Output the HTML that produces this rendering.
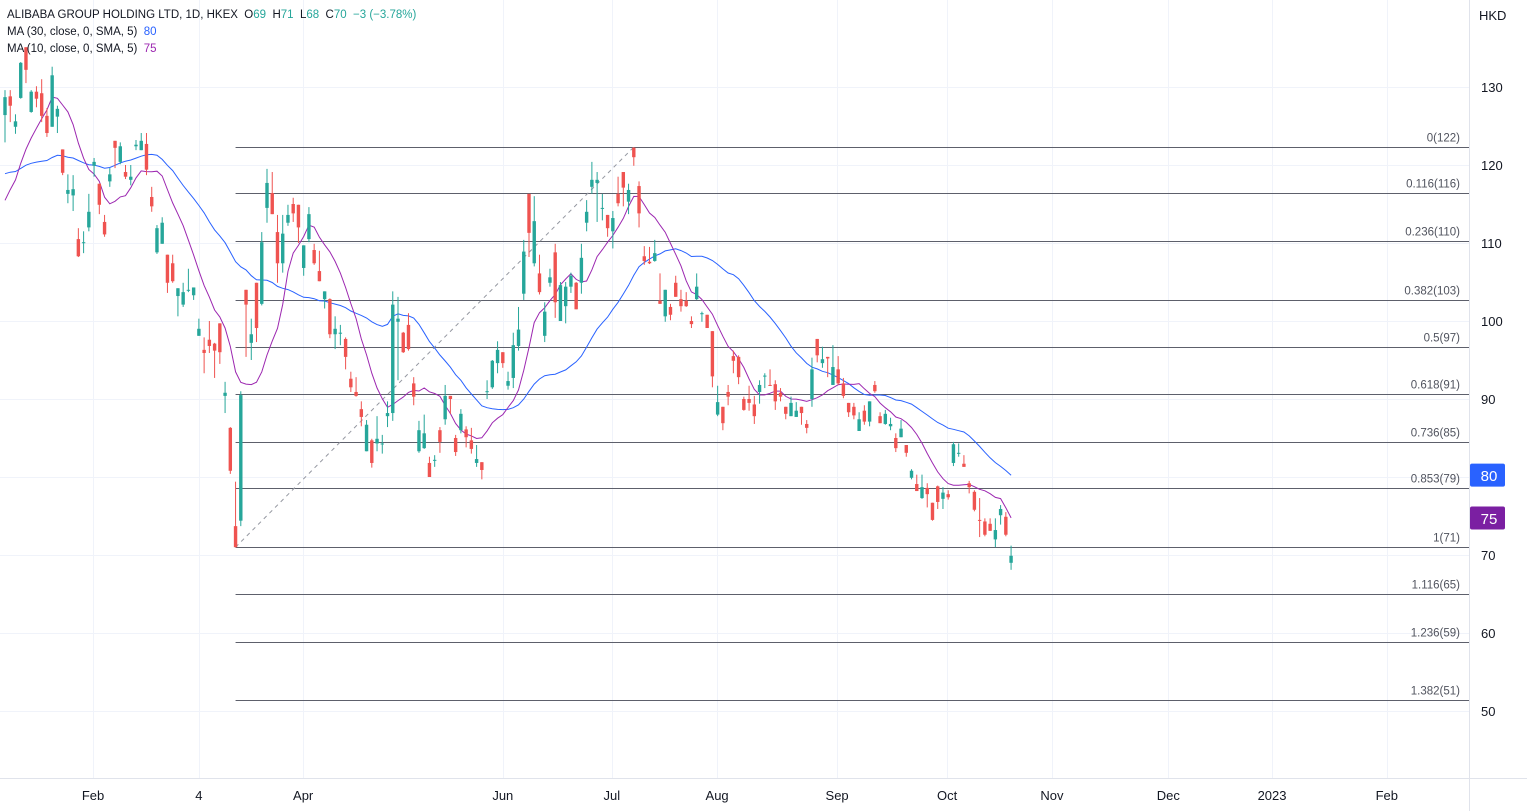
<!DOCTYPE html>
<html><head><meta charset="utf-8"><style>
html,body{margin:0;padding:0;background:#fff;width:1527px;height:811px;overflow:hidden}
svg{display:block;font-family:"Liberation Sans",sans-serif}
</style></head><body>
<svg id="chart" width="1527" height="811" viewBox="0 0 1527 811"></svg>
<script>
// ---- data ----
const opens=[126.4,128.8,124.9,128.6,135.1,126.8,129.4,129.2,126.3,124.9,126.2,122.0,116.3,116.1,110.5,110.0,112.0,119.9,117.6,112.7,117.9,123.1,120.4,119.1,118.1,122.4,121.9,122.7,115.9,108.8,109.9,108.5,107.4,103.2,102.1,103.9,103.3,98.1,96.3,97.6,97.1,99.7,90.4,86.3,73.7,74.4,104.0,97.2,104.9,102.2,114.5,116.4,111.4,107.4,112.6,115.0,114.9,106.8,110.5,109.1,106.4,102.8,102.8,98.3,98.4,97.7,92.6,90.9,88.7,83.3,84.7,84.3,84.2,87.8,88.2,99.9,98.5,99.5,92.0,83.3,83.7,81.8,82.1,86.0,87.4,90.4,85.0,86.0,86.1,84.7,81.8,81.9,90.9,91.5,94.6,96.0,91.7,92.7,96.8,103.5,116.3,107.4,106.1,98.1,104.9,108.8,100.0,101.9,104.4,104.9,104.9,112.6,117.2,117.7,114.4,113.6,111.5,116.3,119.1,115.3,122.2,117.3,108.3,107.6,107.7,102.6,100.6,101.8,104.9,102.8,102.6,100.0,102.8,101.0,100.8,98.7,88.0,89.0,90.9,95.5,95.4,90.0,90.0,89.3,90.9,92.9,91.8,91.9,90.8,89.0,87.8,87.7,89.0,86.8,90.0,97.7,94.6,95.4,91.8,93.8,92.0,89.5,89.0,85.9,88.5,87.1,91.8,87.8,86.8,86.5,85.0,85.1,84.1,79.9,79.1,77.3,78.6,76.7,78.8,77.2,77.8,81.8,83.0,81.7,79.2,78.1,74.5,74.3,74.0,72.0,75.1,74.9,69.0];
const highs=[129.6,129.6,126.5,133.2,135.1,129.6,130.1,131.0,127.3,132.6,127.6,122.0,118.8,118.7,111.9,111.5,116.3,120.9,117.6,113.6,119.6,123.1,122.9,120.0,120.0,123.2,124.1,124.1,117.2,112.3,113.3,108.5,108.5,104.2,104.9,106.7,104.3,100.3,97.9,100.0,97.2,99.7,92.2,86.4,79.4,91.0,104.0,100.3,104.9,111.4,119.5,119.1,113.6,113.6,114.9,115.8,114.9,109.7,114.6,109.9,109.0,103.8,102.9,100.6,99.5,97.9,93.5,92.8,89.7,87.3,84.9,87.8,85.4,89.7,103.8,103.1,98.6,101.0,92.8,87.2,88.0,82.6,82.8,86.4,91.8,90.4,85.4,88.7,86.5,86.3,84.1,81.9,92.4,95.0,97.4,96.0,93.5,98.5,101.8,110.4,116.3,116.0,108.5,102.4,106.7,109.9,105.0,105.0,106.2,105.0,109.9,115.5,120.4,119.1,116.3,113.6,114.1,118.5,119.1,117.6,122.3,117.9,109.6,109.5,110.4,106.1,104.0,102.2,105.8,104.0,103.7,100.6,106.1,101.2,100.8,98.7,91.7,89.0,91.8,96.2,95.6,90.3,91.7,90.4,92.4,93.3,93.8,92.4,91.4,89.0,90.3,89.6,89.0,87.3,95.3,97.7,96.7,95.4,96.9,95.5,92.7,89.5,89.5,88.3,89.2,89.7,92.3,88.3,88.6,87.6,85.6,87.3,84.1,81.0,80.3,80.3,79.2,76.7,78.9,78.7,78.3,84.5,84.3,82.8,79.5,78.3,77.3,74.7,74.7,74.7,76.4,75.5,71.2];
const lows=[122.9,125.5,124.0,128.5,130.5,126.7,127.4,125.5,123.6,124.9,124.1,118.7,115.1,114.1,108.2,108.7,111.5,118.5,113.7,110.8,117.2,119.6,120.1,118.2,117.4,121.9,121.9,118.7,114.0,108.6,109.9,103.6,104.9,100.6,101.8,103.7,102.7,98.1,93.3,95.9,92.7,94.5,88.2,80.4,71.0,73.7,95.4,95.0,97.3,102.0,112.6,113.7,104.9,106.2,112.2,112.7,110.0,105.8,110.1,107.2,105.1,101.6,97.8,96.4,96.9,93.8,90.9,90.3,86.5,83.3,81.2,83.3,83.0,86.4,87.2,92.4,95.9,96.2,89.2,83.1,83.6,80.0,81.3,83.1,86.7,88.1,82.7,85.6,83.8,83.0,81.3,79.7,90.0,91.3,93.3,94.0,91.2,91.4,96.2,102.7,108.2,107.0,103.4,97.3,104.4,100.4,100.0,99.7,103.6,101.5,103.5,111.5,116.3,112.7,112.9,110.8,109.3,114.7,114.7,113.7,119.9,112.0,107.2,107.3,107.6,102.2,99.9,100.1,103.1,101.2,101.8,99.1,102.7,99.9,99.1,91.5,87.8,86.0,89.2,93.3,91.9,88.5,88.5,86.8,89.4,91.4,91.7,88.6,89.7,87.4,87.8,87.7,86.7,85.6,89.0,94.7,94.0,92.8,91.8,91.8,90.1,87.7,87.4,85.9,86.7,86.5,90.8,86.9,86.7,86.0,83.2,85.1,82.6,79.7,78.2,77.2,76.1,74.4,75.9,75.9,77.1,81.4,82.6,81.3,77.9,75.6,72.3,72.4,73.1,71.0,73.9,72.4,68.1];
const closes=[128.7,127.6,125.6,133.1,132.2,129.4,128.5,126.3,124.1,131.5,127.2,119.0,116.8,116.9,108.3,110.1,114.0,120.4,114.9,111.1,118.8,122.2,122.4,118.5,118.5,122.6,123.1,119.4,114.7,111.9,112.6,104.9,105.1,104.2,103.7,104.0,104.3,99.0,95.9,96.8,96.2,96.0,90.8,80.8,71.0,90.5,102.1,98.3,99.1,110.1,117.7,113.7,107.4,111.2,113.6,113.8,112.0,109.7,113.7,107.4,105.1,103.8,98.3,99.0,98.5,95.4,91.5,90.4,87.7,86.7,81.8,84.9,84.3,88.2,102.1,100.3,96.0,96.4,90.3,86.0,85.6,80.0,82.2,84.5,90.4,90.0,83.2,88.1,85.1,83.6,82.3,80.9,91.0,94.9,96.3,94.6,92.3,96.9,98.9,108.9,111.3,112.8,103.7,101.2,105.6,102.4,104.6,104.4,105.8,101.5,108.1,114.0,118.1,118.1,114.5,111.9,113.2,115.1,117.1,116.8,121.0,113.8,107.7,107.4,108.7,102.2,104.0,100.8,103.1,101.9,101.9,99.6,104.4,101.0,99.1,92.9,89.6,86.9,90.3,94.9,92.8,88.6,89.5,87.8,91.8,93.0,91.7,89.7,90.3,88.1,89.5,88.5,88.2,86.3,93.8,95.6,95.1,95.2,94.1,92.0,90.4,88.3,87.9,87.4,87.1,89.7,91.0,86.9,88.1,86.8,83.7,86.2,83.1,80.8,78.2,78.7,77.8,74.5,76.8,78.0,77.4,84.2,83.1,81.3,78.7,75.8,74.4,72.6,73.1,73.2,75.9,72.6,69.9];
// closes before the visible window (estimated) used to seed the moving averages
const priorCloses=[121,122,123,121,120,122,124,123,121,120,119,121,122,120,118,119,121,122,120,118,116,114,113,112,114,115,116,114,113,115];
const priceTicks=[130,120,110,100,90,80,70,60,50];
const monthLabels=["Feb","4","Apr","Jun","Jul","Aug","Sep","Oct","Nov","Dec","2023","Feb"];
const monthTickIdx=[16.8,37,56.9,95,115.8,135.9,158.8,179.8,199.8,222,241.8,263.7];
const fibRatios=[0,0.116,0.236,0.382,0.5,0.618,0.736,0.853,1,1.116,1.236,1.382];
const fibAnchorIdx=[44,120]; // swing low candle, swing high candle
const maPeriods=[30,10];

// ---- scales ----
const PLOT_R=1469, PLOT_B=778;
function xScale(i){return 5+i*5.24;}
function yScale(v){return 87+(130-v)*7.8;}

const NS="http://www.w3.org/2000/svg";
const svg=document.getElementById('chart');
function mk(tag,attrs,parent){const e=document.createElementNS(NS,tag);for(const k in attrs)e.setAttribute(k,attrs[k]);(parent||svg).appendChild(e);return e;}

// grid
const grid=mk('g',{});


priceTicks.forEach(v=>{const y=Math.round(yScale(v))+0.5;
  const l=mk('line',{x1:0,x2:PLOT_R,y1:y,y2:y,stroke:'#f0f3fa','stroke-width':1},grid);
  
  });
monthTickIdx.forEach(i=>{const x=Math.round(xScale(i))+0.5;
  const l=mk('line',{x1:x,x2:x,y1:0,y2:PLOT_B,stroke:'#f0f3fa','stroke-width':1},grid);
  
  });

// fib levels
const loIdx=fibAnchorIdx[0], hiIdx=fibAnchorIdx[1];
const lo=lows[loIdx], hi=highs[hiIdx];
const fib=mk('g',{});


fibRatios.forEach(r=>{const v=hi-r*(hi-lo);const y=Math.round(yScale(v))+0.5;
  const l=mk('line',{x1:xScale(loIdx),x2:PLOT_R,y1:y,y2:y,stroke:'#5d606b','stroke-width':1},fib);
  
  
  const t=mk('text',{x:1460,y:y-6,'text-anchor':'end','font-size':11.5,fill:'#50535e'},fib);
  t.textContent=r+'('+Math.round(v)+')';
  
  });
const diag=mk('line',{x1:xScale(loIdx),y1:yScale(lo),x2:xScale(hiIdx),y2:yScale(hi),stroke:'#9598a1','stroke-width':1,'stroke-dasharray':'4,4'},fib);



// moving averages
const allCloses=priorCloses.concat(closes);
const maColors=['#2962ff','#9c27b0'];
maPeriods.forEach((p,k)=>{const pts=[];
  for(let i=0;i<closes.length;i++){const j=i+priorCloses.length;let s=0,n=0;
    for(let q=Math.max(0,j-p+1);q<=j;q++){s+=allCloses[q];n++;}
    pts.push(xScale(i).toFixed(1)+','+yScale(s/n).toFixed(1));}
  const pl=mk('polyline',{points:pts.join(' '),fill:'none',stroke:maColors[k],'stroke-width':1});
  
  });

// candles
const cg=mk('g',{});


for(let i=0;i<closes.length;i++){
  const up=closes[i]>=opens[i];const col=up?'#26a69a':'#ef5350';const x=xScale(i);
  const g=mk('g',{},cg);
  
  
  mk('line',{x1:x,x2:x,y1:yScale(highs[i]),y2:yScale(lows[i]),stroke:col,'stroke-width':1},g);
  const top=yScale(Math.max(opens[i],closes[i])),bot=yScale(Math.min(opens[i],closes[i]));
  mk('rect',{x:x-1.7,y:top,width:3.4,height:Math.max(1,bot-top),fill:col},g);
}

// axes
const ax=mk('g',{});


mk('rect',{x:PLOT_R,y:0,width:1527-PLOT_R,height:811,fill:'#fff'},ax);
mk('line',{x1:PLOT_R+0.5,x2:PLOT_R+0.5,y1:0,y2:811,stroke:'#e0e3eb'},ax);
const cur=mk('text',{x:1479,y:20,'font-size':13,fill:'#131722'},ax);cur.textContent='HKD';


priceTicks.forEach(v=>{const t=mk('text',{x:1481,y:yScale(v)+5,'font-size':13,fill:'#131722'},ax);t.textContent=v;
  
  });
const bx=mk('g',{});


mk('rect',{x:0,y:PLOT_B,width:PLOT_R,height:811-PLOT_B,fill:'#fff'},bx);
mk('line',{x1:0,x2:1527,y1:PLOT_B+0.5,y2:PLOT_B+0.5,stroke:'#e0e3eb'},bx);
monthLabels.forEach((m,k)=>{const t=mk('text',{x:xScale(monthTickIdx[k]),y:800,'text-anchor':'middle','font-size':13,fill:'#131722'},bx);t.textContent=m;
  
  });

// last value badges
const ma30Last=allCloses.slice(-30).reduce((a,b)=>a+b,0)/30;
const ma10Last=allCloses.slice(-10).reduce((a,b)=>a+b,0)/10;
[[ma30Last,'#2962ff','ma30-value-badge'],[ma10Last,'#7b1fa2','ma10-value-badge']].forEach(b=>{
  const y=yScale(b[0]);const g=mk('g',{});
  
  
  mk('rect',{x:1470,y:y-11.5,width:35,height:23,rx:2,fill:b[1]},g);
  const t=mk('text',{x:1489,y:y+6,'text-anchor':'middle','font-size':15,fill:'#fff'},g);t.textContent=Math.round(b[0]);});
</script>
<div style="position:absolute;left:7px;top:7px;font:11.5px 'Liberation Sans',sans-serif;color:#131722;line-height:17px">
<div>ALIBABA GROUP HOLDING LTD, 1D, HKEX&nbsp; O<span style="color:#26a69a">69</span>&nbsp; H<span style="color:#26a69a">71</span>&nbsp; L<span style="color:#26a69a">68</span>&nbsp; C<span style="color:#26a69a">70</span>&nbsp; <span style="color:#26a69a">−3 (−3.78%)</span></div>
<div>MA (30, close, 0, SMA, 5)&nbsp; <span style="color:#2962ff">80</span></div>
<div>MA (10, close, 0, SMA, 5)&nbsp; <span style="color:#9c27b0">75</span></div>
</div>
</body></html>
